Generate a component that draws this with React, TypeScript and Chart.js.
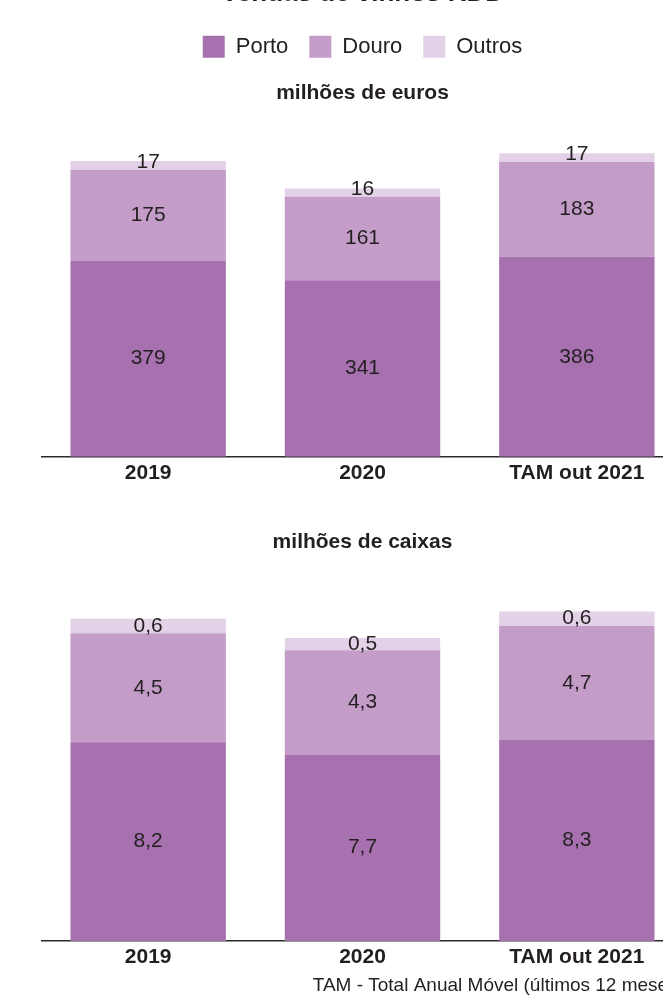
import React, { useEffect, useRef } from "react";
import { Chart, registerables } from "chart.js";

Chart.register(...registerables);

const categories = ["2019", "2020", "TAM out 2021"];
const seriesNames = ["Porto", "Douro", "Outros"];
const eurosPorto = [379, 341, 386];
const eurosDouro = [175, 161, 183];
const eurosOutros = [17, 16, 17];
const caixasPorto = [8.2, 7.7, 8.3];
const caixasDouro = [4.5, 4.3, 4.7];
const caixasOutros = [0.6, 0.5, 0.6];
const eurosMax = 600;
const caixasMax = 14;

const mainTitle = "Vendas de vinhos RDD";
const eurosUnit = "milhões de euros";
const caixasUnit = "milhões de caixas";
const footnote = "TAM - Total Anual Móvel (últimos 12 meses)";

const COLORS = ["#a770ae", "#c39cc8", "#e3d2e7"];
const TEXT = "#231f20";
const AXIS = "#2b2b2b";
const FAMILY = "'Liberation Sans', Arial, Helvetica, sans-serif";

const valueLabels = {
  id: "valueLabels",
  afterDatasetsDraw(chart: any, _args: any, opts: any) {
    const { ctx } = chart;
    ctx.save();
    ctx.font = `21px ${FAMILY}`;
    ctx.fillStyle = TEXT;
    ctx.textAlign = "center";
    ctx.textBaseline = "middle";
    const n = chart.data.datasets.length;
    chart.data.datasets.forEach((ds: any, di: number) => {
      const meta = chart.getDatasetMeta(di);
      meta.data.forEach((el: any, i: number) => {
        const { x, y, base } = el.getProps(["x", "y", "base"], true);
        const v = ds.data[i] as number;
        let cy = (y + base) / 2;
        if (di === n - 1) cy += opts.topShift || 0;
        const txt = opts.decimals ? v.toFixed(1).replace(".", ",") : String(v);
        ctx.fillText(txt, x, cy);
      });
    });
    ctx.restore();
  },
};

function makeDatasets(values: number[][]) {
  return values.map((data, i) => ({
    label: seriesNames[i],
    data,
    backgroundColor: COLORS[i],
    borderWidth: 0,
    barPercentage: 0.725,
    categoryPercentage: 1,
  }));
}

function xScale() {
  return {
    stacked: true,
    z: 1,
    grid: { display: false, drawTicks: false },
    border: { display: true, color: AXIS, width: 1.5 },
    ticks: {
      color: TEXT,
      padding: 4,
      font: { family: FAMILY, size: 21, weight: "bold" as const },
    },
  };
}

function TopChart() {
  const ref = useRef<HTMLCanvasElement>(null);
  useEffect(() => {
    const chart = new Chart(ref.current!, {
      type: "bar",
      data: {
        labels: categories,
        datasets: makeDatasets([eurosPorto, eurosDouro, eurosOutros]),
      },
      options: {
        responsive: false,
        animation: false,
        layout: { padding: 0 },
        plugins: {
          title: {
            display: true,
            text: mainTitle,
            color: TEXT,
            font: { family: FAMILY, size: 26, weight: "bold" },
            padding: { top: 0, bottom: 5.6 },
          },
          legend: {
            display: true,
            position: "top",
            weight: 1800,
            labels: {
              boxWidth: 22,
              boxHeight: 22,
              padding: 21,
              color: TEXT,
              font: { family: FAMILY, size: 22 },
            },
          } as any,
          subtitle: {
            display: true,
            text: eurosUnit,
            color: TEXT,
            font: { family: FAMILY, size: 21, weight: "bold" },
            padding: { top: 12.7, bottom: 40.3 },
          },
          tooltip: { enabled: false },
          valueLabels: { decimals: false, topShift: -3 },
        } as any,
        scales: {
          x: xScale() as any,
          y: { stacked: true, display: false, min: 0, max: eurosMax },
        },
      },
      plugins: [valueLabels],
    });
    return () => chart.destroy();
  }, []);
  return (
    <canvas
      ref={ref}
      width={643}
      height={512}
      style={{ position: "absolute", left: 41, top: -22, width: 643, height: 512 }}
    />
  );
}

function BottomChart() {
  const ref = useRef<HTMLCanvasElement>(null);
  useEffect(() => {
    const chart = new Chart(ref.current!, {
      type: "bar",
      data: {
        labels: categories,
        datasets: makeDatasets([caixasPorto, caixasDouro, caixasOutros]),
      },
      options: {
        responsive: false,
        animation: false,
        layout: { padding: 0 },
        plugins: {
          title: {
            display: true,
            text: caixasUnit,
            color: TEXT,
            font: { family: FAMILY, size: 21, weight: "bold" },
            padding: { top: 0, bottom: 46.5 },
          },
          legend: { display: false },
          subtitle: {
            display: true,
            text: footnote,
            position: "bottom",
            align: "end",
            color: TEXT,
            font: { family: FAMILY, size: 19, weight: "normal" },
            padding: { top: 0, bottom: 0 },
          },
          tooltip: { enabled: false },
          valueLabels: { decimals: true, topShift: 0 },
        } as any,
        scales: {
          x: xScale() as any,
          y: { stacked: true, display: false, min: 0, max: caixasMax },
        },
      },
      plugins: [valueLabels],
    });
    return () => chart.destroy();
  }, []);
  return (
    <canvas
      ref={ref}
      width={643}
      height={467}
      style={{ position: "absolute", left: 41, top: 529.5, width: 643, height: 467 }}
    />
  );
}

export default function App() {
  return (
    <div
      style={{
        position: "fixed",
        left: 0,
        top: 0,
        width: 663,
        height: 998,
        overflow: "hidden",
        background: "#ffffff",
      }}
    >
      <TopChart />
      <BottomChart />
    </div>
  );
}
